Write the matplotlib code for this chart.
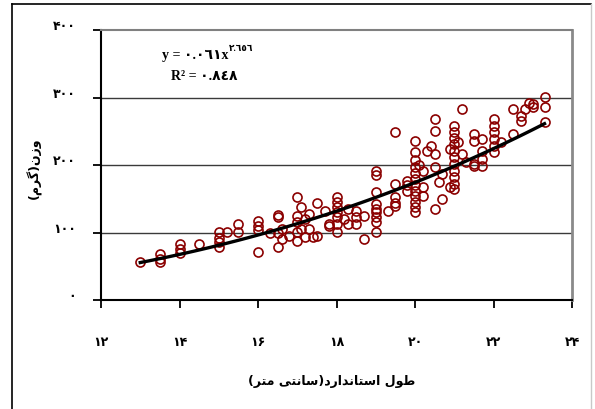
import numpy as np
import matplotlib.pyplot as plt
from matplotlib.lines import Line2D
from matplotlib.transforms import ScaledTranslation

# standard length (cm) and the weights (g) measured at each length
lengths = [13, 13.5, 14, 14.5, 15, 15.2, 15.5, 16, 16.3, 16.5, 16.6, 16.8,
           17, 17.1, 17.2, 17.3, 17.4, 17.5, 17.7, 17.8, 18, 18.2, 18.3, 18.5,
           18.7, 19, 19.3, 19.5, 19.8, 20, 20.1, 20.2, 20.3, 20.4, 20.5, 20.6,
           20.7, 20.9, 21, 21.1, 21.2, 21.3, 21.5, 21.7, 22, 22.2, 22.5, 22.7,
           22.8, 22.9, 23, 23.3]
weights = [[56], [68, 61, 56], [83, 76, 70], [83], [101, 92, 86, 79], [101],
           [113, 101], [117, 110, 104, 71], [100], [126, 123, 99, 79],
           [105, 90], [95], [153, 124, 116, 101, 87], [138, 105], [120, 93],
           [127, 105], [93], [144, 95], [132], [113, 110],
           [153, 145, 138, 130, 123, 113, 101], [120], [135, 113],
           [132, 123, 113], [124, 90],
           [191, 185, 160, 142, 135, 130, 123, 116, 101], [132],
           [249, 172, 153, 144, 139], [176, 170, 161],
           [236, 219, 207, 197, 188, 179, 170, 161, 154, 145, 138, 130], [200],
           [191, 167, 154], [221], [228], [268, 250, 216, 197, 135], [175],
           [187, 150], [224, 167],
           [258, 249, 240, 231, 221, 212, 201, 191, 182, 172, 164], [234],
           [283, 216], [204], [246, 236, 201, 199], [239, 221, 209, 199],
           [268, 258, 249, 239, 228, 219], [234], [283, 246], [273, 265],
           [283], [292], [290, 286], [301, 286, 264]]

# power fit y = a * x^b
a_coef = 0.061
b_coef = 2.656

x_ticks = [12, 14, 16, 18, 20, 22, 24]
x_labels = ['۱۲', '۱۴', '۱۶', '۱۸', '۲۰', '۲۲', '۲۴']
y_ticks = [0, 100, 200, 300, 400]
y_labels = ['۰', '۱۰۰', '۲۰۰', '۳۰۰', '۴۰۰']

# labels written in shaped presentation forms, visual order
ylab = '(\uFEE1\uFEAE\uFB94)\uFEE5\uFEAF\uFEED'          # وزن(گرم)
xlab = ('(\uFEAE\uFE98\uFEE3 \uFBFD\uFE98\uFEE7\uFE8E\uFEB3)'
        '\uFEA9\uFEAD\uFE8D\uFEAA\uFEE7\uFE8E\uFE98\uFEB3\uFE8D '
        '\uFEDD\uFEEE\uFEC3')                                  # طول استاندارد(سانتی متر)

xs = np.concatenate([[l] * len(w) for l, w in zip(lengths, weights)])
ys = np.concatenate(weights)

fig = plt.figure(figsize=(5.95, 4.10), dpi=100)
ax = fig.add_axes([101/595, 1 - 301/410, 471/595, 270/410])

for yv in [100, 200, 300]:
    ax.axhline(yv, color='#3a3a3a', lw=1.0, zorder=1)

ax.plot(xs, ys, 'o', mfc='none', mec='#8B0000', ms=6.5, mew=1.2, zorder=3)

xf = np.linspace(13, 23.3, 100)
ax.plot(xf, a_coef * xf ** b_coef, color='black', lw=2.4, zorder=4)

ax.set_xlim(12, 24)
ax.set_ylim(0, 400)
ax.set_xticks(x_ticks)
ax.set_xticklabels(x_labels, family=['DejaVu Sans'], fontweight='bold', fontsize=9)
ax.set_yticks(y_ticks)
ax.set_yticklabels(y_labels, family=['DejaVu Sans'], fontweight='bold', fontsize=9)
ax.tick_params(axis='x', length=6, width=1.3, pad=19)
ax.tick_params(axis='y', length=6, width=1.3, pad=12)

# y tick labels sit a little above their gridlines
lift = ScaledTranslation(0, 4/72, fig.dpi_scale_trans)
for lab in ax.get_yticklabels():
    lab.set_transform(lab.get_transform() + lift)

ax.spines['left'].set_linewidth(1.5)
ax.spines['bottom'].set_linewidth(1.5)
ax.spines['top'].set_color('#808080')
ax.spines['top'].set_linewidth(1.5)
ax.spines['right'].set_color('#8a8a8a')
ax.spines['right'].set_linewidth(2)

ax.set_xlabel(xlab, family=['DejaVu Sans'], fontweight='bold', fontsize=9)
ax.xaxis.set_label_coords(0.49, -0.275)
ax.set_ylabel(ylab, family=['DejaVu Sans'], fontweight='bold', fontsize=9)
ax.yaxis.set_label_coords(-0.125, 0.49)

eq_font = dict(family=['Liberation Serif', 'DejaVu Sans'], fontweight='bold')
t1 = ax.text(0.20, 0.91, 'y = ٠.٠٦١x', transform=ax.transAxes, ha='center',
             va='center', fontsize=10, **eq_font)
ax.annotate('٢.٦٥٦', xy=(1.0, 0.95), xycoords=t1, ha='left', va='center',
            fontsize=6.5, **eq_font)
ax.text(0.22, 0.83, 'R² = ٠.٨٤٨', transform=ax.transAxes, ha='center',
        va='center', fontsize=10, **eq_font)

# outer chart frame
fig.add_artist(Line2D([12/595, 12/595], [0, 1 - 5/410], color='black', lw=1.2))
fig.add_artist(Line2D([12/595, 591/595], [1 - 5/410, 1 - 5/410], color='black', lw=1.2))
fig.add_artist(Line2D([591/595, 591/595], [0, 1 - 5/410], color='#c8c8c8', lw=1.0))

fig.savefig('out.png', dpi=100)
